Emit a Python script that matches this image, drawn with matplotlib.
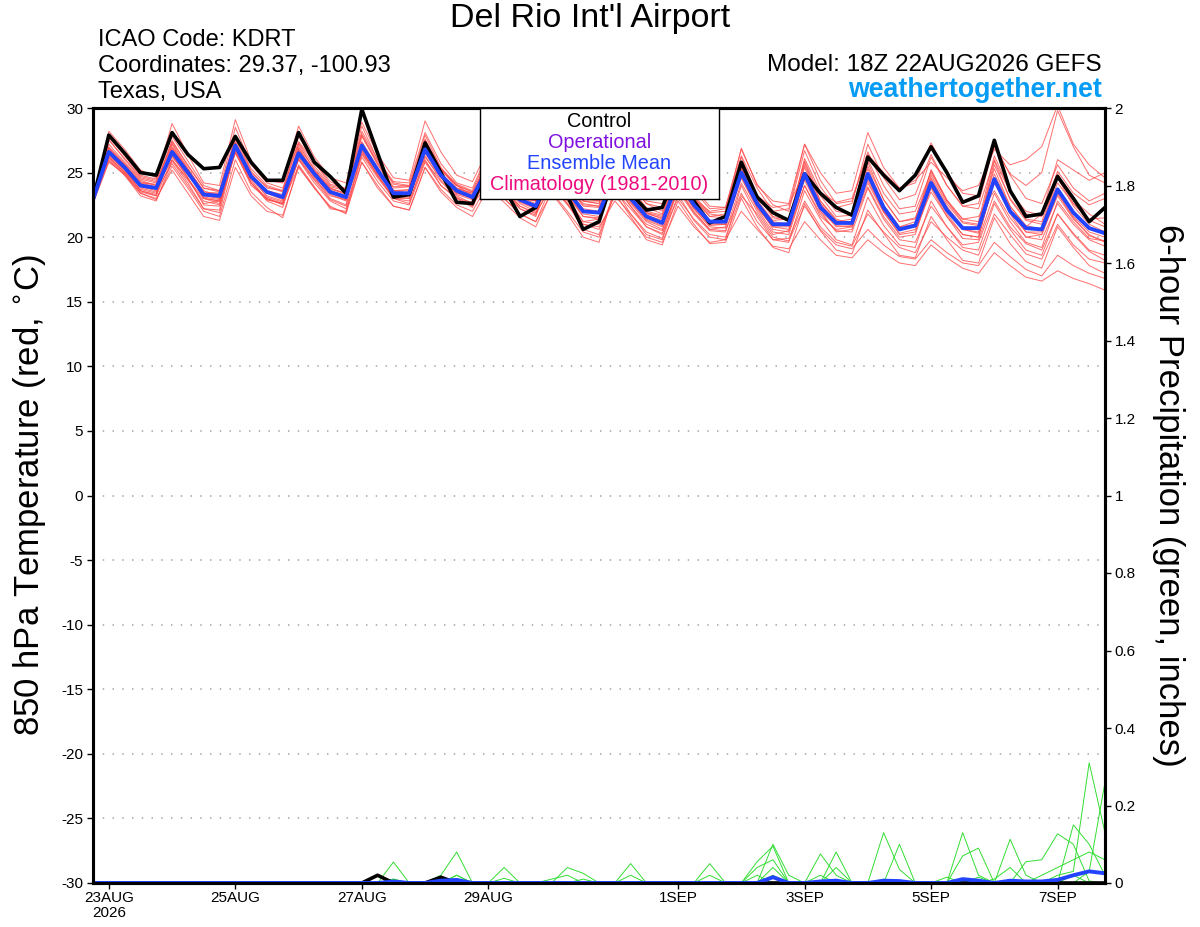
import numpy as np
import pandas as pd
import matplotlib
matplotlib.use("Agg")
import matplotlib.pyplot as plt

plt.rcParams['font.family'] = ['Liberation Sans', 'DejaVu Sans']
plt.rcParams['axes.unicode_minus'] = False

# 6-hourly valid times, 18Z 22AUG2026 -> 18Z 7SEP2026
times = pd.date_range("2026-08-22 18:00", periods=65, freq="6h")

# 850 hPa temperature (C)
control_t = [22.9, 27.9, 26.5, 25.0, 24.8, 28.1, 26.4, 25.3, 25.4, 27.8,
             25.8, 24.4, 24.4, 28.1, 25.8, 24.7, 23.4, 29.9, 26.5, 23.1,
             23.3, 27.3, 25.0, 22.7, 22.6, 25.6, 23.8, 21.6, 22.3, 25.0,
             23.2, 20.6, 21.2, 25.0, 23.4, 22.1, 22.3, 25.3, 22.8, 21.1,
             21.6, 25.8, 23.1, 21.9, 21.3, 24.9, 23.4, 22.3, 21.7, 26.2,
             24.8, 23.6, 24.8, 27.0, 25.0, 22.7, 23.2, 27.5, 23.6, 21.6,
             21.8, 24.7, 23.0, 21.2, 22.3]
mean_t = [22.9, 26.6, 25.4, 24.0, 23.8, 26.6, 25.0, 23.3, 23.2, 27.1,
          24.7, 23.5, 23.1, 26.5, 24.9, 23.5, 23.1, 27.1, 25.2, 23.4,
          23.4, 26.8, 24.8, 23.6, 23.1, 25.4, 24.2, 22.9, 22.4, 25.0,
          23.6, 22.0, 21.9, 24.8, 23.0, 21.6, 21.1, 24.4, 22.5, 21.2,
          21.2, 25.0, 22.6, 21.0, 21.0, 24.9, 22.3, 21.1, 21.1, 24.9,
          22.3, 20.6, 20.9, 24.2, 22.1, 20.7, 20.7, 24.5, 22.0, 20.7,
          20.6, 23.7, 21.9, 20.7, 20.3]

m01 = [22.8, 28.2, 26.8, 25.2, 24.6, 27.8, 25.9, 24.0, 23.6, 28.5, 25.6, 24.2, 23.8,
       27.4, 25.8, 24.3, 23.7, 28.6, 26.0, 24.1, 23.9, 27.9, 25.4, 24.0, 23.2,
       26.2, 24.9, 23.4, 22.9, 26.4, 24.5, 22.8, 22.6, 25.9, 24.1, 22.6, 22.0,
       26.0, 23.8, 22.4, 22.3, 26.8, 24.1, 22.5, 22.0, 26.7, 23.9, 22.3, 22.6,
       27.2, 24.6, 22.9, 23.3, 26.4, 24.0, 22.4, 22.2, 26.0, 23.5, 22.0, 21.7,
       25.1, 23.4, 22.5, 23.0]
m02 = [22.6, 25.8, 24.9, 23.4, 22.9, 25.5, 23.8, 22.0, 21.6, 26.0, 23.5, 22.3, 21.5,
       25.6, 23.9, 22.2, 22.0, 25.8, 24.0, 22.4, 22.1, 25.4, 23.5, 22.3, 21.6,
       23.8, 22.7, 21.5, 20.8, 23.5, 22.0, 20.4, 20.0, 23.4, 21.6, 19.8, 19.4,
       22.8, 21.0, 19.5, 19.6, 23.0, 20.8, 19.2, 18.8, 22.6, 20.5, 19.0, 18.7,
       22.1, 20.3, 18.6, 18.4, 21.6, 19.8, 18.2, 18.0, 21.5, 19.5, 18.1, 17.6,
       20.8, 19.2, 17.8, 17.2]
m03 = [22.9, 26.9, 25.6, 24.3, 24.0, 27.3, 25.3, 23.5, 23.4, 27.6, 25.0, 23.9, 23.5,
       26.8, 25.1, 23.8, 23.4, 27.9, 25.6, 23.8, 23.9, 27.5, 25.2, 24.0, 23.5,
       25.0, 24.0, 22.6, 22.0, 24.6, 23.1, 21.2, 21.0, 25.6, 23.4, 21.9, 21.6,
       24.9, 22.9, 21.6, 21.8, 26.2, 23.2, 21.5, 21.3, 25.8, 22.8, 21.4, 21.0,
       25.3, 22.5, 20.8, 21.2, 24.8, 22.6, 21.1, 20.9, 25.9, 22.9, 21.3, 21.0,
       24.2, 22.6, 21.3, 20.8]
m04 = [23.0, 27.2, 25.8, 24.5, 24.2, 26.3, 24.6, 22.6, 22.8, 26.8, 24.2, 23.0, 22.5,
       26.0, 24.5, 23.2, 22.9, 26.5, 24.8, 23.0, 22.6, 26.2, 24.6, 23.4, 23.0,
       25.8, 24.6, 23.2, 22.8, 25.5, 24.0, 22.5, 22.4, 24.0, 22.4, 21.0, 20.5,
       23.8, 22.0, 20.6, 20.8, 24.6, 22.2, 20.4, 20.2, 24.0, 21.6, 20.6, 20.8,
       26.0, 23.4, 21.8, 22.0, 25.0, 22.8, 21.4, 21.6, 23.6, 21.5, 20.0, 19.8,
       22.6, 21.0, 19.8, 19.3]
m05 = [22.7, 26.2, 25.0, 23.6, 23.3, 26.9, 25.2, 23.0, 22.6, 26.5, 24.2, 22.9, 22.6,
       26.2, 24.6, 23.0, 22.5, 27.8, 25.7, 23.9, 24.0, 26.0, 24.0, 23.0, 22.7,
       24.6, 23.5, 22.2, 21.6, 25.7, 24.2, 22.8, 22.8, 24.2, 22.6, 21.2, 20.6,
       23.6, 21.8, 20.5, 20.4, 24.2, 22.0, 20.2, 20.5, 24.0, 21.8, 20.5, 20.4,
       23.8, 21.4, 19.8, 19.6, 22.4, 20.8, 19.4, 19.6, 22.8, 20.8, 19.5, 19.0,
       21.8, 20.3, 19.0, 18.6]
m06 = [22.9, 26.6, 25.3, 24.0, 23.9, 26.2, 24.8, 23.4, 23.4, 27.4, 24.9, 23.6, 23.0,
       26.9, 25.0, 23.6, 23.2, 27.0, 25.1, 23.5, 23.3, 27.5, 25.3, 24.1, 23.6,
       26.4, 25.0, 23.8, 23.2, 24.4, 22.8, 21.2, 21.4, 24.5, 22.7, 21.4, 20.9,
       25.2, 23.0, 21.8, 21.6, 25.4, 22.8, 21.0, 21.1, 26.1, 23.5, 22.0, 21.8,
       24.4, 22.0, 20.6, 20.9, 25.2, 22.8, 21.2, 21.0, 25.3, 22.4, 20.9, 20.6,
       24.8, 22.6, 21.4, 21.5]
m07 = [22.8, 26.0, 24.8, 23.2, 22.8, 25.9, 24.2, 22.2, 21.9, 26.8, 24.2, 22.8, 22.3,
       26.1, 24.4, 22.9, 22.4, 26.4, 24.6, 23.0, 22.8, 25.9, 24.3, 23.1, 22.4,
       24.9, 23.8, 22.4, 21.9, 23.9, 22.5, 21.0, 20.6, 23.2, 21.8, 20.4, 19.9,
       23.8, 21.9, 20.6, 20.5, 23.4, 21.2, 19.8, 19.9, 22.8, 20.8, 19.6, 19.3,
       21.8, 20.4, 19.2, 18.8, 21.2, 20.0, 19.0, 18.6, 21.8, 20.2, 18.7, 18.3,
       21.0, 19.4, 18.3, 18.0]
m08 = [22.9, 26.8, 25.6, 24.2, 24.1, 26.8, 25.2, 23.6, 23.1, 27.0, 24.6, 23.4, 23.2,
       26.6, 25.1, 23.8, 23.3, 27.4, 25.4, 23.6, 23.7, 27.0, 25.2, 24.0, 23.5,
       26.0, 24.8, 23.6, 23.0, 25.8, 24.2, 22.8, 22.6, 26.0, 24.0, 22.6, 22.3,
       24.8, 23.2, 21.9, 22.0, 26.9, 24.0, 22.8, 22.6, 27.2, 25.0, 23.4, 23.6,
       28.1, 25.4, 23.8, 24.2, 27.3, 25.0, 23.4, 23.2, 27.0, 24.9, 24.0, 25.0,
       29.8, 27.0, 24.8, 24.2]
m09 = [22.8, 27.5, 26.1, 24.7, 24.4, 27.0, 25.3, 23.4, 23.0, 27.9, 25.1, 23.8, 23.6,
       27.3, 25.5, 24.0, 23.7, 28.0, 25.8, 24.2, 24.0, 27.1, 24.9, 23.8, 23.4,
       25.9, 24.5, 23.0, 22.8, 25.3, 23.8, 22.0, 21.9, 25.2, 23.2, 21.8, 21.5,
       24.6, 22.6, 21.3, 21.2, 25.5, 22.9, 21.2, 21.0, 25.0, 22.6, 21.2, 21.4,
       24.8, 22.4, 20.8, 21.0, 24.5, 22.2, 20.6, 20.4, 24.9, 22.4, 20.8, 21.8,
       26.0, 25.2, 24.4, 25.0]
m10 = [22.9, 26.4, 25.1, 23.8, 23.5, 26.4, 24.6, 22.5, 22.4, 26.9, 24.5, 23.2, 22.8,
       26.3, 24.8, 23.4, 22.9, 26.7, 24.9, 23.3, 23.1, 26.5, 24.7, 23.5, 23.0,
       24.6, 23.6, 22.4, 21.8, 25.0, 23.4, 21.6, 21.4, 24.2, 22.4, 20.8, 20.2,
       24.0, 22.2, 20.8, 20.7, 25.3, 22.6, 20.6, 20.4, 24.6, 22.0, 20.4, 20.6,
       24.6, 22.0, 20.2, 20.4, 23.8, 21.6, 19.9, 19.8, 23.4, 21.2, 19.6, 19.2,
       22.8, 21.2, 19.9, 19.7]
m11 = [22.8, 26.3, 25.2, 23.9, 23.6, 25.7, 24.0, 22.2, 22.1, 27.3, 24.7, 23.4, 22.9,
       26.0, 24.2, 22.8, 22.2, 26.2, 24.3, 22.8, 22.5, 25.8, 24.0, 23.0, 22.3,
       25.1, 23.9, 22.2, 21.7, 24.2, 22.6, 20.6, 20.2, 23.6, 22.2, 20.8, 20.3,
       23.0, 21.4, 20.2, 20.0, 23.2, 21.8, 20.0, 19.7, 22.4, 20.6, 19.4, 19.1,
       20.6, 19.4, 18.5, 18.3, 19.8, 18.8, 18.0, 17.8, 19.6, 18.5, 17.5, 17.0,
       18.6, 17.8, 17.2, 16.8]
m12 = [22.7, 26.1, 24.9, 23.5, 23.2, 26.0, 24.4, 22.8, 22.5, 26.6, 24.4, 22.9, 22.6,
       25.5, 23.8, 22.3, 21.9, 26.6, 24.8, 23.0, 23.0, 26.3, 24.4, 23.2, 22.6,
       24.0, 23.0, 21.8, 21.2, 24.0, 22.6, 21.0, 20.8, 22.8, 21.4, 20.0, 19.6,
       22.4, 20.8, 19.6, 19.8, 22.0, 20.6, 19.3, 19.1, 21.2, 19.8, 18.6, 18.4,
       19.8, 18.8, 18.0, 17.8, 19.4, 18.4, 17.6, 17.2, 18.8, 17.8, 16.9, 16.6,
       17.4, 16.8, 16.4, 15.9]
m13 = [23.0, 27.0, 25.7, 24.4, 24.0, 27.5, 25.5, 23.8, 23.6, 27.2, 24.8, 23.6, 23.3,
       27.0, 25.3, 23.9, 23.6, 27.3, 25.2, 23.4, 23.5, 27.3, 25.0, 23.7, 23.3,
       25.6, 24.4, 23.1, 22.6, 25.2, 23.6, 22.2, 22.0, 24.9, 23.0, 21.6, 21.2,
       24.5, 22.5, 21.1, 21.0, 25.6, 22.8, 21.3, 21.4, 25.4, 22.6, 21.0, 21.2,
       25.8, 22.9, 21.2, 21.5, 24.6, 22.4, 20.8, 20.6, 25.6, 23.0, 21.4, 21.2,
       24.6, 22.4, 21.0, 20.4]
m14 = [22.8, 26.5, 25.2, 23.6, 23.2, 27.2, 25.0, 23.0, 22.8, 26.6, 24.0, 23.0, 22.6,
       27.2, 25.2, 23.7, 23.4, 26.8, 24.7, 23.2, 23.0, 27.6, 25.3, 23.8, 23.4,
       25.3, 24.0, 22.8, 22.2, 24.8, 23.2, 21.8, 21.6, 25.4, 23.4, 21.9, 21.4,
       24.2, 22.2, 20.9, 21.0, 24.8, 22.3, 20.8, 20.6, 24.8, 22.2, 20.8, 20.9,
       23.9, 21.6, 20.0, 20.2, 23.9, 21.8, 20.2, 20.0, 24.6, 22.0, 20.4, 20.2,
       23.4, 21.6, 20.4, 20.0]
m15 = [22.9, 27.8, 26.3, 24.8, 24.5, 28.8, 26.4, 24.2, 24.0, 29.1, 25.9, 24.4, 24.2,
       28.6, 26.2, 24.6, 24.2, 28.9, 26.4, 24.6, 24.4, 29.0, 26.6, 24.8, 24.3,
       26.8, 25.2, 23.8, 23.4, 26.1, 24.6, 23.0, 22.8, 26.3, 24.2, 22.8, 22.6,
       25.6, 23.6, 22.2, 22.3, 26.3, 23.8, 22.0, 22.2, 27.2, 24.4, 22.6, 22.8,
       26.6, 24.0, 22.2, 22.4, 26.2, 24.0, 22.4, 22.6, 27.2, 24.8, 23.0, 22.6,
       25.6, 23.8, 22.8, 23.4]
m16 = [22.8, 26.2, 25.0, 23.7, 23.4, 26.5, 24.9, 23.1, 22.9, 27.3, 24.8, 23.1, 22.7,
       26.4, 24.7, 23.3, 22.8, 27.2, 25.3, 23.6, 23.4, 26.6, 24.6, 23.3, 22.9,
       25.5, 24.1, 22.7, 22.2, 24.6, 23.2, 21.6, 21.5, 24.6, 22.8, 21.3, 20.8,
       24.3, 22.4, 21.0, 21.0, 24.6, 22.3, 20.8, 20.8, 25.6, 22.8, 21.3, 21.0,
       24.2, 21.9, 20.3, 20.6, 23.5, 21.6, 20.2, 20.0, 24.4, 21.8, 20.0, 20.2,
       23.2, 21.4, 20.2, 19.6]
m17 = [22.9, 26.7, 25.4, 24.1, 23.8, 26.6, 25.0, 23.2, 23.0, 27.0, 24.6, 23.4, 23.0,
       26.6, 24.9, 23.5, 23.0, 26.9, 25.0, 23.6, 23.4, 26.7, 24.8, 23.5, 23.0,
       25.7, 24.5, 23.3, 22.8, 25.4, 24.0, 22.6, 22.4, 25.1, 23.4, 22.0, 21.7,
       24.8, 23.0, 22.0, 22.2, 25.2, 23.2, 22.3, 22.5, 25.0, 23.5, 22.7, 23.0,
       26.4, 25.0, 23.8, 24.4, 25.8, 24.6, 23.6, 24.0, 26.8, 25.6, 26.0, 27.0,
       30.2, 27.2, 25.6, 24.6]
m18 = [22.9, 26.9, 25.5, 24.2, 23.9, 26.0, 24.5, 23.0, 22.8, 27.1, 24.7, 23.5, 23.2,
       26.7, 25.0, 23.6, 23.2, 27.1, 25.3, 23.6, 23.6, 26.9, 24.8, 23.4, 23.1,
       25.4, 24.3, 22.9, 22.4, 25.5, 23.9, 22.4, 22.3, 25.0, 23.2, 21.7, 21.3,
       24.2, 22.3, 21.2, 21.2, 24.9, 22.5, 20.9, 21.0, 24.4, 22.0, 20.9, 20.8,
       24.8, 22.2, 20.6, 20.8, 24.0, 22.0, 20.6, 20.3, 24.2, 21.9, 20.4, 20.4,
       23.4, 21.5, 20.1, 19.7]
m19 = [22.7, 25.9, 24.8, 23.4, 23.0, 25.2, 23.4, 21.6, 21.3, 25.4, 23.2, 22.0, 21.7,
       25.4, 23.8, 22.4, 21.8, 25.8, 23.8, 22.4, 22.1, 25.4, 23.7, 22.5, 22.0,
       24.2, 23.0, 21.8, 21.2, 23.4, 21.8, 20.0, 19.6, 23.8, 21.8, 20.2, 19.8,
       23.3, 21.3, 20.0, 19.8, 24.0, 21.6, 19.8, 19.6, 23.6, 21.4, 19.8, 19.4,
       23.1, 20.9, 19.4, 19.2, 22.8, 20.8, 19.2, 19.0, 22.6, 20.6, 19.0, 18.6,
       21.8, 20.2, 18.9, 18.2]
m20 = [23.0, 27.6, 26.0, 24.6, 24.3, 27.4, 25.6, 23.8, 23.5, 27.8, 25.3, 24.0, 23.6,
       27.8, 25.8, 24.1, 23.8, 28.2, 26.0, 24.3, 24.2, 28.1, 25.7, 24.2, 23.8,
       26.6, 25.2, 23.9, 23.4, 26.4, 24.8, 23.1, 22.9, 25.8, 23.8, 22.3, 21.8,
       25.0, 23.1, 21.6, 21.5, 25.8, 23.3, 21.6, 21.4, 25.9, 23.2, 21.6, 21.7,
       25.5, 22.9, 21.2, 21.4, 25.2, 22.9, 21.4, 21.2, 26.3, 23.6, 21.8, 21.6,
       24.9, 22.9, 21.8, 21.0]
members_t = [m01, m02, m03, m04, m05, m06, m07, m08, m09, m10,
             m11, m12, m13, m14, m15, m16, m17, m18, m19, m20]

# 6-hour precipitation (inches), only non-zero steps listed
control_p = {18: 0.02, 22: 0.015}
mean_p = {19: 0.004, 22: 0.006, 23: 0.008, 43: 0.015, 46: 0.004, 47: 0.006,
          50: 0.006, 51: 0.005, 55: 0.01, 56: 0.006, 58: 0.006, 59: 0.004,
          60: 0.004, 61: 0.008, 62: 0.02, 63: 0.03, 64: 0.025}
p01 = {19: 0.054, 20: 0.0, 23: 0.02}
p02 = {22: 0.02, 23: 0.08}
p03 = {19: 0.01, 26: 0.04, 43: 0.1, 44: 0.02, 55: 0.13, 56: 0.02}
p04 = {30: 0.04, 31: 0.025, 42: 0.055, 43: 0.095, 46: 0.075, 47: 0.02,
       61: 0.02, 62: 0.03, 63: 0.31, 64: 0.13}
p05 = {26: 0.012, 34: 0.05, 43: 0.04, 47: 0.08, 50: 0.13, 51: 0.035}
p06 = {34: 0.02, 39: 0.05, 51: 0.1, 58: 0.113, 59: 0.02}
p07 = {39: 0.02, 42: 0.02, 47: 0.04, 55: 0.07, 56: 0.09, 62: 0.15, 63: 0.1, 64: 0.02}
p08 = {23: 0.02, 29: 0.01, 30: 0.02, 50: 0.01, 54: 0.015, 59: 0.055, 60: 0.06,
       61: 0.127, 62: 0.1, 63: 0.005}
p09 = {43: 0.02, 57: 0.01, 58: 0.04, 63: 0.03, 64: 0.26}
p10 = {19: 0.01, 31: 0.01, 42: 0.04, 43: 0.06, 60: 0.02, 61: 0.04, 62: 0.06,
       63: 0.08, 64: 0.06}
p11 = {56: 0.015, 62: 0.02}
p12 = {46: 0.02}
members_p = [p01, p02, p03, p04, p05, p06, p07, p08, p09, p10, p11, p12]


def fill(sparse):
    arr = np.zeros(len(times))
    for k, v in sparse.items():
        arr[k] = v
    return arr


fig = plt.figure(figsize=(12, 9.27), dpi=100)
ax = fig.add_axes([93 / 1200, 44 / 927, 1012 / 1200, 775 / 927])

for m in members_t:
    ax.plot(times, m, color='#ff4a4a', lw=0.7, alpha=0.8)
ax.plot(times, control_t, color='black', lw=2.6, zorder=5)
ax.plot(times, mean_t, color='#2244ff', lw=2.8, zorder=6)

ax.set_ylim(-30, 30)
ax.set_xlim(times[0], times[-1])
ax.set_yticks(range(-30, 31, 5))
ax.yaxis.grid(True, color='#b0b0b0', lw=1.3, linestyle=(0, (0.8, 4.6)))
ax.tick_params(axis='y', direction='out', length=4, width=1, labelsize=11, pad=3)
ax.set_ylabel('850 hPa Temperature (red, $^{\\circ}$C)', fontsize=25)
ax.yaxis.set_label_coords(-0.044, 0.5)

tick_days = pd.to_datetime(["2026-08-23", "2026-08-25", "2026-08-27", "2026-08-29",
                            "2026-09-01", "2026-09-03", "2026-09-05", "2026-09-07"])
tick_labels = ["23AUG\n2026", "25AUG", "27AUG", "29AUG", "1SEP", "3SEP", "5SEP", "7SEP"]
ax.set_xticks(tick_days)
ax.set_xticklabels(tick_labels, fontsize=11, linespacing=1.1)
ax.tick_params(axis='x', direction='out', length=4, width=1, pad=2)

ax2 = ax.twinx()
for p in members_p:
    ax2.plot(times, fill(p), color='#33dd33', lw=0.7)
ax2.plot(times, fill(control_p), color='black', lw=2.6)
ax2.plot(times, fill(mean_p), color='#2244ff', lw=2.8)
ax2.set_ylim(0, 2)
ax2.set_yticks(np.arange(0, 2.01, 0.2))
ax2.set_yticklabels(['0', '0.2', '0.4', '0.6', '0.8', '1', '1.2', '1.4', '1.6', '1.8', '2'])
ax2.tick_params(axis='y', direction='out', length=4, width=1, labelsize=11, pad=3)
ax2.set_ylabel('6-hour Precipitation (green, inches)', fontsize=25, rotation=270)
ax2.yaxis.set_label_coords(1.079, 0.5)

for a in (ax, ax2):
    for s in a.spines.values():
        s.set_linewidth(2.2)

# legend box
lax = fig.add_axes([480 / 1200, 1 - 199 / 927, 239 / 1200, 91 / 927])
lax.set_xticks([])
lax.set_yticks([])
for s in lax.spines.values():
    s.set_linewidth(1)
leg_names = ['Control', 'Operational', 'Ensemble Mean', 'Climatology (1981-2010)']
leg_colors = ['black', '#8010e0', '#2244ff', '#ee0a7e']
for k, (name, col) in enumerate(zip(leg_names, leg_colors)):
    lax.text(0.5, 0.857 - k * 0.234, name, color=col, fontsize=14.3,
             ha='center', va='center', transform=lax.transAxes)

fig.text(0.492, 1 - 18 / 927, "Del Rio Int'l Airport", ha='center', va='center', fontsize=24.5)
fig.text(98 / 1200, 1 - 40 / 927, 'ICAO Code: KDRT', fontsize=17, va='center')
fig.text(98 / 1200, 1 - 66 / 927, 'Coordinates: 29.37, -100.93', fontsize=17, va='center')
fig.text(98 / 1200, 1 - 92 / 927, 'Texas, USA', fontsize=17, va='center')
fig.text(1102 / 1200, 1 - 65 / 927, 'Model: 18Z 22AUG2026 GEFS', fontsize=17.5, va='center', ha='right')
fig.text(1102 / 1200, 1 - 90 / 927, 'weathertogether.net', fontsize=19.3, va='center', ha='right',
         color='#049cf4', fontweight='bold')

fig.savefig('out.png', dpi=100)
